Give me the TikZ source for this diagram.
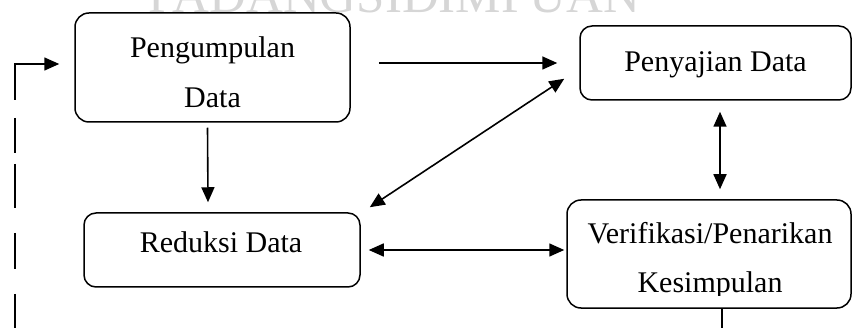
\documentclass[tikz,border=0pt]{standalone}
\usepackage{fontspec}
\setmainfont{Liberation Serif}
\usetikzlibrary{arrows.meta,calc}
\definecolor{wm}{RGB}{214,214,214}
\begin{document}
\begin{tikzpicture}[x=1pt,y=-1pt,
  box/.style={draw, line width=1.5pt, rounded corners=14pt, inner sep=0pt},
  lbl/.style={anchor=base, inner sep=0pt, font=\fontsize{30}{36}\selectfont},
  arr/.style={line width=1.6pt, -{Triangle[length=15pt,width=13pt]}},
  darr/.style={line width=1.6pt, {Triangle[length=15pt,width=13pt]}-{Triangle[length=15pt,width=13pt]}},
]
\useasboundingbox (0,0) rectangle (853,328);
\clip (0,0) rectangle (853,328);

% faint heading behind the top edge
\node[anchor=base, inner sep=0pt, text=wm, font=\fontsize{51}{51}\selectfont] (wmark) at (394.5,13) {PADANGSIDIMPUAN};

% stages
\node[box, minimum width=275pt, minimum height=109pt] (P) at (212.5,67.5) {};
\node[box, rounded corners=12pt, minimum width=271pt, minimum height=74pt] (S) at (715.5,63) {};
\node[box, rounded corners=12pt, minimum width=276pt, minimum height=74pt] (R) at (222,250) {};
\node[box, minimum width=284pt, minimum height=108pt] (V) at (709,254) {};

% labels
\node[lbl] (P1) at (212.5,58) {Pengumpulan};
\node[lbl] (P2) at (212.5,108) {Data};
\node[lbl] (S1) at (715.5,72) {Penyajian Data};
\node[lbl] (R1) at (221,253) {Reduksi Data};
\node[lbl] (V1) at (710,244) {Verifikasi/Penarikan};
\begin{scope}
  \clip (560,200) rectangle (853,295.5);
  \node[lbl] (V2) at (710,293) {Kesimpulan};
\end{scope}

% flows between stages
\draw[arr, shorten <=28pt, shorten >=22pt] (P.east |- S.west) -- (S.west);
\draw[arr] ($(P.south)+(-5,5)$) -- ($(R.north)+(-14,-10)$);
\draw[darr] ($(R.north east)+(9,-5)$) -- ($(S.south west)+(-15,-22)$);
\draw[darr] ($(S.south)+(4.5,11)$) -- ($(V.north)+(11,-10)$);
\draw[darr] ($(R.east)+(8,0)$) -- ($(V.west |- R.east)+(-2,0)$);

% feedback loop back to data collection
\coordinate (vend) at (722,335);
\draw[line width=1.5pt] (V.south -| vend) -- (vend);
\coordinate (fbtop) at (15,64);
\coordinate (fbend) at (15,335);
\draw[line width=1.4pt, dash pattern=on 36pt off 18pt on 35pt off 11pt on 44pt off 25pt on 36pt off 25pt on 60pt] (fbtop) -- (fbend);
\draw[arr, line cap=rect, shorten >=15pt] (fbtop) -- (fbtop -| P.west);
\end{tikzpicture}
\end{document}
